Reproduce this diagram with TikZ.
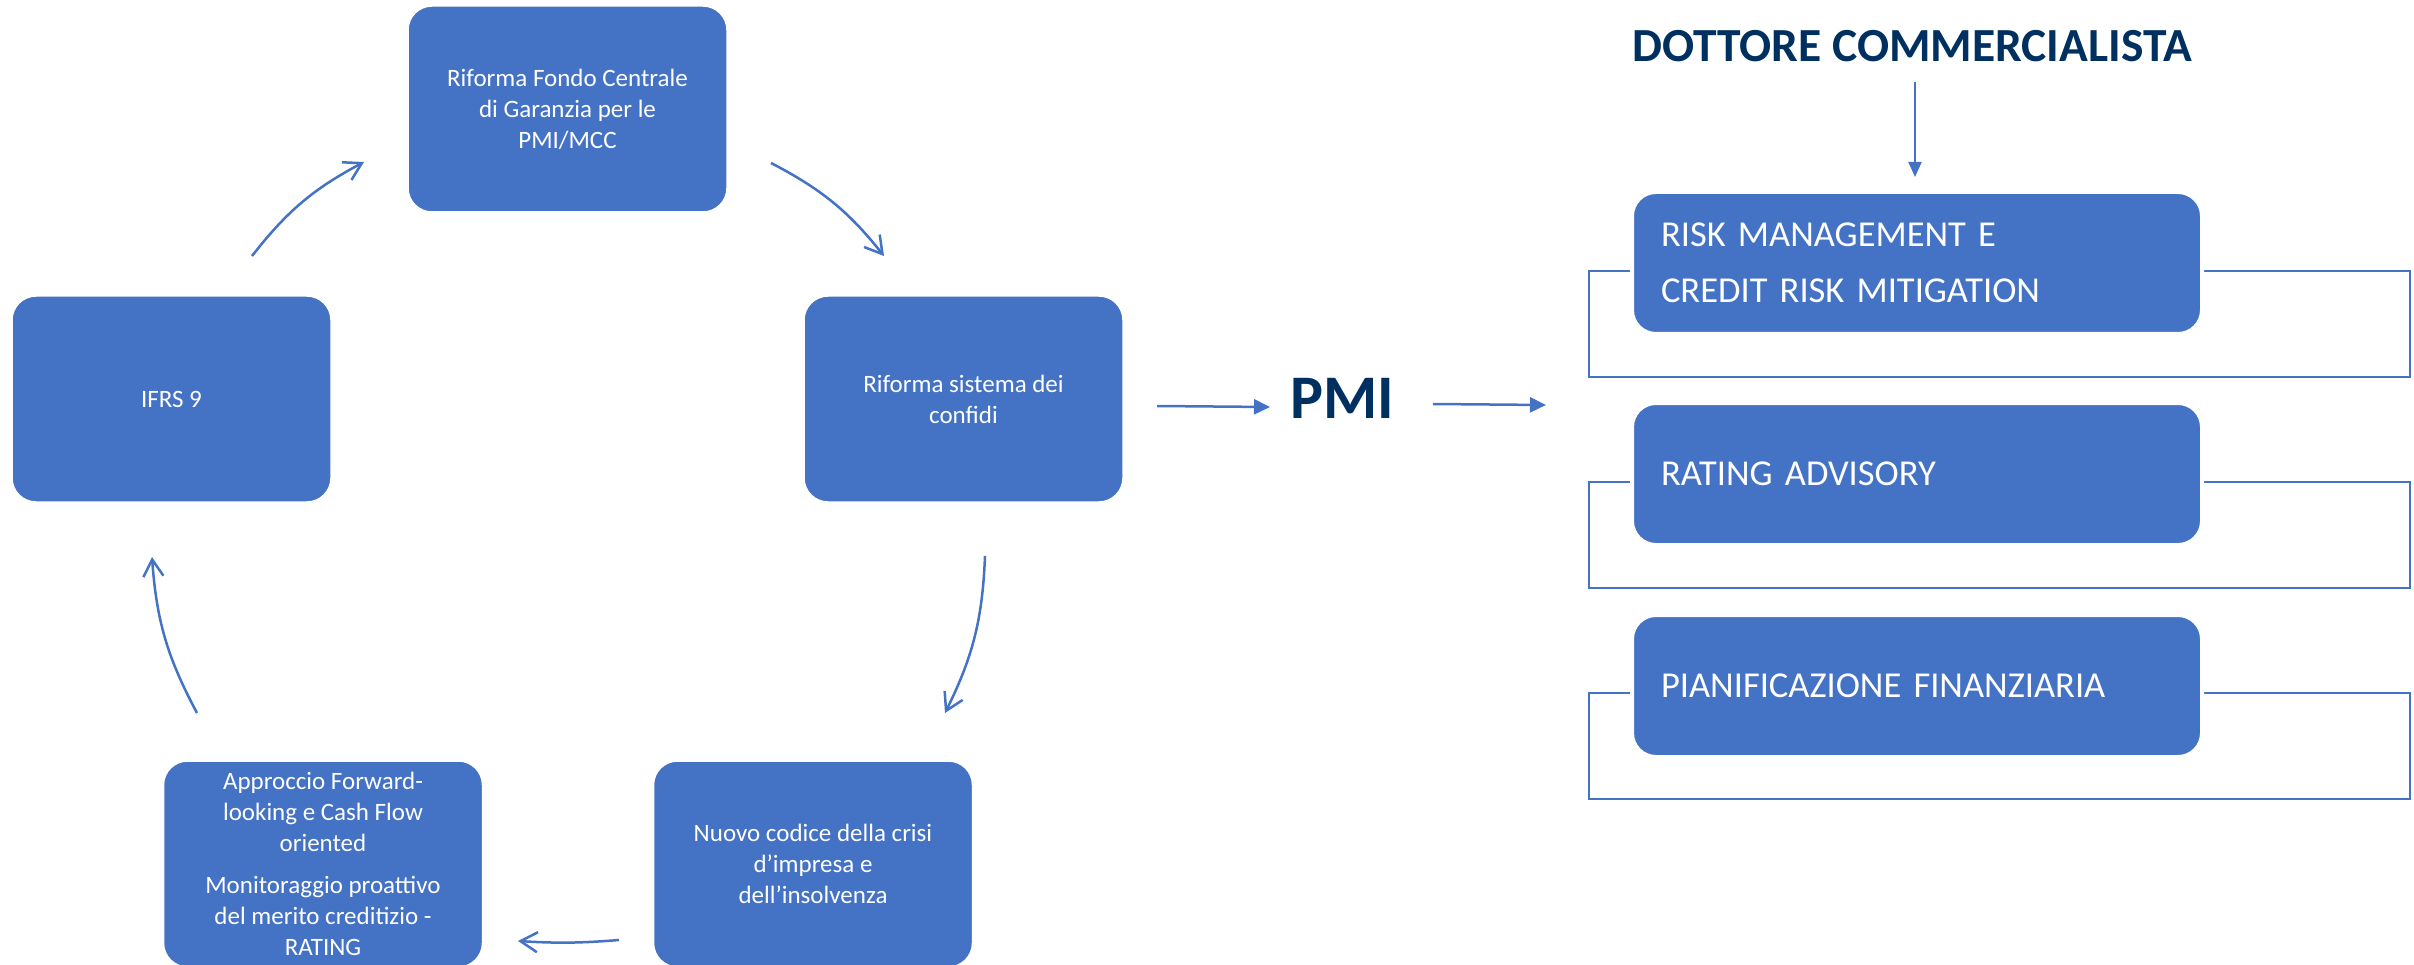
\documentclass[tikz,border=0pt]{standalone}
\usepackage{fontspec}
\setmainfont{Carlito}
\usetikzlibrary{arrows.meta}
\definecolor{boxblue}{HTML}{4472C4}
\definecolor{navy}{HTML}{00305F}
\begin{document}
\begin{tikzpicture}[x=1pt,y=-1pt,
  cyc/.style={rectangle, rounded corners=24pt, fill=boxblue, draw=white, line width=1.5pt,
    minimum width=319pt, minimum height=206pt, text=white, align=center, inner sep=0pt,
    font=\fontsize{25}{31}\selectfont},
  svc/.style={rectangle, rounded corners=24pt, fill=boxblue, draw=white, line width=4pt,
    minimum width=570pt, minimum height=142pt, text=white, align=left, text width=512pt,
    inner xsep=29pt, inner ysep=0pt, font=\fontsize{36.5}{56}\selectfont},
  frame/.style={draw=boxblue, line width=2.5pt},
  cycarrow/.style={draw=boxblue, line width=2.5pt, -{Straight Barb[length=17pt,width=20pt]}},
  flowarrow/.style={draw=boxblue, line width=2.5pt, -{Triangle[length=16pt,width=15pt]}},
  downarrow/.style={draw=boxblue, line width=2pt, -{Triangle[length=15pt,width=13pt]}},
  titletext/.style={anchor=base, text=navy, inner sep=0pt}
]
\useasboundingbox (0,0) rectangle (2414,965);

% cycle boxes
\node[cyc] (fondo) at (567.5,109) {Riforma Fondo Centrale\\di Garanzia per le\\PMI/MCC};
\node[cyc] (ifrs) at (171.5,399) {IFRS 9};
\node[cyc] (sistema) at (963.5,399) {Riforma sistema dei\\confidi};
\node[cyc] (nuovo) at (813,864) {Nuovo codice della crisi\\d’impresa e\\dell’insolvenza};
\node[cyc] (approccio) at (323,864) {Approccio Forward-\\looking e Cash Flow\\oriented\\[11pt]Monitoraggio proattivo\\del merito creditizio -\\RATING};

% cycle arrows
\coordinate (a1s) at (252,256); \coordinate (a1e) at (364,162);
\coordinate (a2s) at (771,163); \coordinate (a2e) at (884,256);
\coordinate (a3s) at (985,556); \coordinate (a3e) at (945,713);
\coordinate (a4s) at (619,940); \coordinate (a4e) at (518,941);
\coordinate (a5s) at (197,713); \coordinate (a5e) at (152,557);
\draw[cycarrow] (a1s) to[bend left=12] (a1e);
\draw[cycarrow] (a2s) to[bend left=12] (a2e);
\draw[cycarrow] (a3s) to[bend left=12] (a3e);
\draw[cycarrow] (a4s) to[bend left=4] (a4e);
\draw[cycarrow] (a5s) to[bend left=12] (a5e);

% PMI and titles
\node[titletext, font=\bfseries\fontsize{62}{74}\selectfont] (pmi) at (1342,418) {PMI};
\node[titletext, font=\bfseries\fontsize{47.5}{57}\selectfont] (dottore) at (1912,62) {DOTTORE COMMERCIALISTA};

\coordinate (p1s) at (1157,406); \coordinate (p1e) at (1270,407);
\coordinate (p2s) at (1433,404); \coordinate (p2e) at (1546,405);
\coordinate (d1s) at (1915,82); \coordinate (d1e) at (1915,177);
\draw[flowarrow] (p1s) -- (p1e);
\draw[flowarrow] (p2s) -- (p2e);
\draw[downarrow] (d1s) -- (d1e);

% frames behind service boxes
\draw[frame] (1589,271) rectangle (2410,377);
\draw[frame] (1589,482) rectangle (2410,588);
\draw[frame] (1589,693) rectangle (2410,799);

% service boxes
\node[svc] (risk) at (1917,263) {RISK MANAGEMENT E\\CREDIT RISK MITIGATION};
\node[svc] (rating) at (1917,474) {RATING ADVISORY};
\node[svc] (pian) at (1917,686) {PIANIFICAZIONE FINANZIARIA};
\end{tikzpicture}
\end{document}
